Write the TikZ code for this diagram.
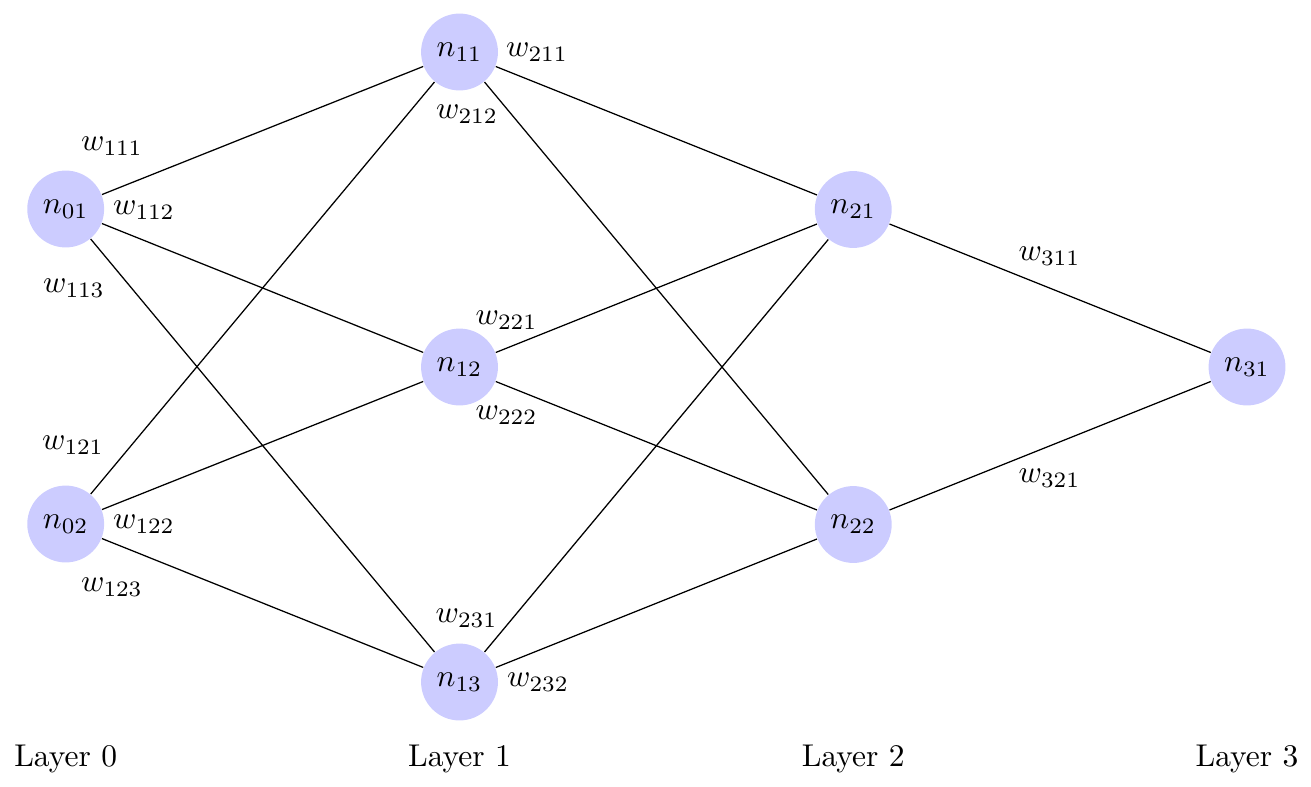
\documentclass[tikz,border=0pt]{standalone}
\begin{document}
\begin{tikzpicture}[x=0.31746pt,y=-0.31746pt,
  neuron/.style={circle,fill=blue!20,minimum size=24.4pt,inner sep=0pt},
  wlab/.style={inner sep=0pt},
  layerlab/.style={inner sep=0pt},
  conn/.style={draw=black,line width=0.4pt}]
\useasboundingbox (0,0) rectangle (1311,786);
% neurons
\node[neuron] (n01) at (65.7,209) {$n_{01}$};
\node[neuron] (n02) at (65.7,524) {$n_{02}$};
\node[neuron] (n11) at (459.5,52) {$n_{11}$};
\node[neuron] (n12) at (459.5,367) {$n_{12}$};
\node[neuron] (n13) at (459.5,682) {$n_{13}$};
\node[neuron] (n21) at (853.25,209.5) {$n_{21}$};
\node[neuron] (n22) at (853.25,524.5) {$n_{22}$};
\node[neuron] (n31) at (1247,367) {$n_{31}$};
% connections
\foreach \a in {n01,n02}{\foreach \b in {n11,n12,n13}{\draw[conn] (\a) -- (\b);}}
\foreach \a in {n11,n12,n13}{\foreach \b in {n21,n22}{\draw[conn] (\a) -- (\b);}}
\foreach \a in {n21,n22}{\draw[conn] (\a) -- (n31);}
% weights
\node[wlab] (w111) at (112,146) {$w_{111}$};
\node[wlab] (w112) at (144,210) {$w_{112}$};
\node[wlab] (w113) at (74,288) {$w_{113}$};
\node[wlab] (w121) at (73,445.5) {$w_{121}$};
\node[wlab] (w122) at (144,524) {$w_{122}$};
\node[wlab] (w123) at (112,587) {$w_{123}$};
\node[wlab] (w211) at (537,52.5) {$w_{211}$};
\node[wlab] (w212) at (467,114) {$w_{212}$};
\node[wlab] (w221) at (506.5,320.5) {$w_{221}$};
\node[wlab] (w222) at (506.5,415) {$w_{222}$};
\node[wlab] (w231) at (466.5,618.5) {$w_{231}$};
\node[wlab] (w232) at (538,682.5) {$w_{232}$};
\node[wlab] (w311) at (1049.5,256) {$w_{311}$};
\node[wlab] (w321) at (1049.5,478) {$w_{321}$};
% layers
\node[layerlab] (l0) at (65.7,758.5) {Layer 0};
\node[layerlab] (l1) at (459.5,758.5) {Layer 1};
\node[layerlab] (l2) at (853.25,758.5) {Layer 2};
\node[layerlab] (l3) at (1247,758.5) {Layer 3};
\end{tikzpicture}
\end{document}
